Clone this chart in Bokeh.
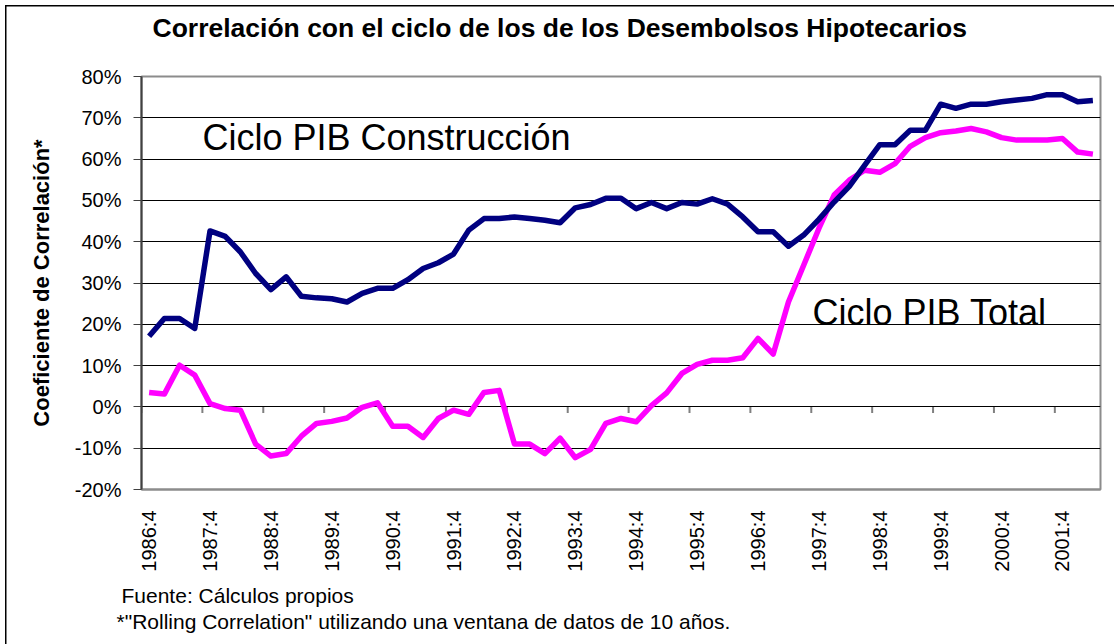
import math
from bokeh.plotting import figure
from bokeh.models import Range1d, FixedTicker, PrintfTickFormatter, Label, Title
from bokeh.embed import file_html
from bokeh.resources import INLINE

# ---------------- data ----------------
years = list(range(1986, 2003))
quarters = [f"{y}:{q}" for y in years for q in (1, 2, 3, 4)
            if (y, q) >= (1986, 4) and (y, q) <= (2002, 2)]

tick_labels = ["1986:4", "1987:4", "1988:4", "1989:4", "1990:4", "1991:4",
               "1992:4", "1993:4", "1994:4", "1995:4", "1996:4", "1997:4",
               "1998:4", "1999:4", "2000:4", "2001:4"]

ciclo_construccion = [
    17.1, 21.4, 21.4, 19.0, 42.6, 41.3, 37.5, 32.3, 28.4, 31.5,
    26.8, 26.4, 26.2, 25.4, 27.5, 28.7, 28.7, 30.8, 33.5, 34.9,
    37.0, 42.8, 45.6, 45.6, 46.0, 45.6, 45.2, 44.6, 48.2, 49.0,
    50.5, 50.5, 48.0, 49.5, 48.0, 49.5, 49.1, 50.4, 49.1, 46.0,
    42.4, 42.4, 38.9, 41.6, 45.4, 49.6, 53.4, 58.5, 63.5, 63.5,
    67.0, 67.0, 73.3, 72.3, 73.3, 73.3, 73.9, 74.3, 74.7, 75.6,
    75.6, 73.9, 74.2,
]

ciclo_total = [
    3.5, 3.1, 10.1, 7.7, 0.8, -0.4, -0.8, -9.0, -11.9, -11.3,
    -7.1, -4.0, -3.5, -2.7, -0.1, 1.0, -4.7, -4.7, -7.4, -2.8,
    -0.8, -1.8, 3.5, 4.0, -9.0, -9.0, -11.3, -7.6, -12.3, -10.3,
    -4.0, -2.8, -3.6, 0.3, 3.4, 8.1, 10.3, 11.3, 11.3, 11.9,
    16.6, 12.8, 25.4, 34.3, 43.2, 51.3, 54.9, 57.3, 56.8, 58.9,
    63.1, 65.2, 66.4, 66.8, 67.4, 66.6, 65.2, 64.6, 64.6, 64.6,
    65.0, 61.7, 61.2,
]

y_ticks = [-20, -10, 0, 10, 20, 30, 40, 50, 60, 70, 80]

# ---------------- layout ----------------
W, H = 1114, 644
ML, MR, MT, MB = 141, 14, 76, 155
FW, FH = W - ML - MR, H - MT - MB
n = len(quarters)
x0, x1 = -0.5, n - 0.5
y0, y1 = -20, 80

def dx(px):  # canvas pixel -> data x
    return x0 + (px - ML) / FW * (x1 - x0)

def dy(py):  # canvas pixel -> data y
    return y1 - (py - MT) / FH * (y1 - y0)

FONT = "Liberation Sans"

p = figure(width=W, height=H, output_backend="svg", toolbar_location=None,
           x_range=Range1d(x0, x1), y_range=Range1d(y0, y1),
           min_border_left=ML, min_border_right=MR,
           min_border_top=MT, min_border_bottom=MB,
           background_fill_color="white", border_fill_color=None)
# thin outer chart border (left and top edges)
p.styles = {"box-shadow": "inset 5px 5px 0 0 #ffffff, inset 6.5px 6.5px 0 0 #000000",
            "background-color": "#ffffff"}

p.outline_line_color = "#8c8c8c"
p.outline_line_width = 2

# title (trailing blank line lifts it away from the plot area)
p.title.text = "Correlación con el ciclo de los de los Desembolsos Hipotecarios\n"
p.title.text_font = FONT
p.title.text_font_size = "26.5px"
p.title.text_font_style = "bold"
p.title.text_color = "black"
p.title.text_line_height = 0.95
p.title.align = "left"
p.title.offset = 11
p.title.standoff = 10

# y axis
p.yaxis.ticker = FixedTicker(ticks=y_ticks)
p.yaxis.formatter = PrintfTickFormatter(format="%d%%")
p.yaxis.major_label_text_font = FONT
p.yaxis.major_label_text_font_size = "20px"
p.yaxis.major_label_text_color = "black"
p.yaxis.major_tick_out = 8
p.yaxis.major_tick_in = 0
p.yaxis.major_tick_line_color = "#404040"
p.yaxis.minor_tick_line_color = None
p.yaxis.major_label_standoff = 12
p.yaxis.axis_line_color = "#404040"
p.yaxis.axis_line_width = 2
p.yaxis.axis_label = "Coeficiente de Correlación*"
p.yaxis.axis_label_text_font = FONT
p.yaxis.axis_label_text_font_size = "22px"
p.yaxis.axis_label_text_font_style = "bold"
p.yaxis.axis_label_text_color = "black"
p.yaxis.axis_label_standoff = 18

# x axis
tick_idx = [quarters.index(t) for t in tick_labels]
p.xaxis.ticker = FixedTicker(ticks=tick_idx)
p.xaxis.major_label_overrides = {i: quarters[i] for i in tick_idx}
p.xaxis.major_label_orientation = math.pi / 2
p.xaxis.major_label_text_font = FONT
p.xaxis.major_label_text_font_size = "20px"
p.xaxis.major_label_text_color = "black"
p.xaxis.major_tick_out = 0
p.xaxis.major_tick_in = 0
p.xaxis.minor_tick_line_color = None
p.xaxis.major_label_standoff = 21
p.xaxis.axis_line_color = "#8c8c8c"
p.xaxis.axis_line_width = 2

# footnotes
p.add_layout(Title(text="\nFuente: Cálculos propios", align="left", offset=-20,
                   text_font=FONT, text_font_size="21px", text_font_style="normal",
                   text_line_height=0.34, text_color="black", standoff=0), "below")
p.add_layout(Title(text="*\"Rolling Correlation\" utilizando una ventana de datos de 10 años.",
                   align="left", offset=-25,
                   text_font=FONT, text_font_size="21px", text_font_style="normal",
                   text_color="black", standoff=0), "below")

# grid
p.xgrid.visible = False
p.ygrid.ticker = FixedTicker(ticks=[t for t in y_ticks if y0 < t < y1])
p.ygrid.grid_line_color = "black"
p.ygrid.grid_line_width = 1

# category tick marks on the 0% line (between categories)
tick_len = 6 / FH * (y1 - y0)
bx = [i - 0.5 for i in tick_idx]
p.segment(x0=bx, y0=[0] * len(bx), x1=bx, y1=[-tick_len] * len(bx),
          line_color="#808080", line_width=2)

xs = list(range(n))
p.line(xs, ciclo_total, line_color="#FF00FF", line_width=5.5, line_join="round")
p.line(xs, ciclo_construccion, line_color="#000080", line_width=5.5, line_join="round")

def label(px, py, text, size):
    p.add_layout(Label(x=dx(px), y=dy(py), text=text,
                       text_font=FONT, text_font_size=size,
                       text_baseline="alphabetic", text_align="left",
                       text_color="black"))

# in-plot labels
label(202, 137, "Ciclo PIB Construcción", "36px")
label(812, 312, "Ciclo PIB Total", "36px")

open("out.html", "w").write(file_html(p, INLINE))
